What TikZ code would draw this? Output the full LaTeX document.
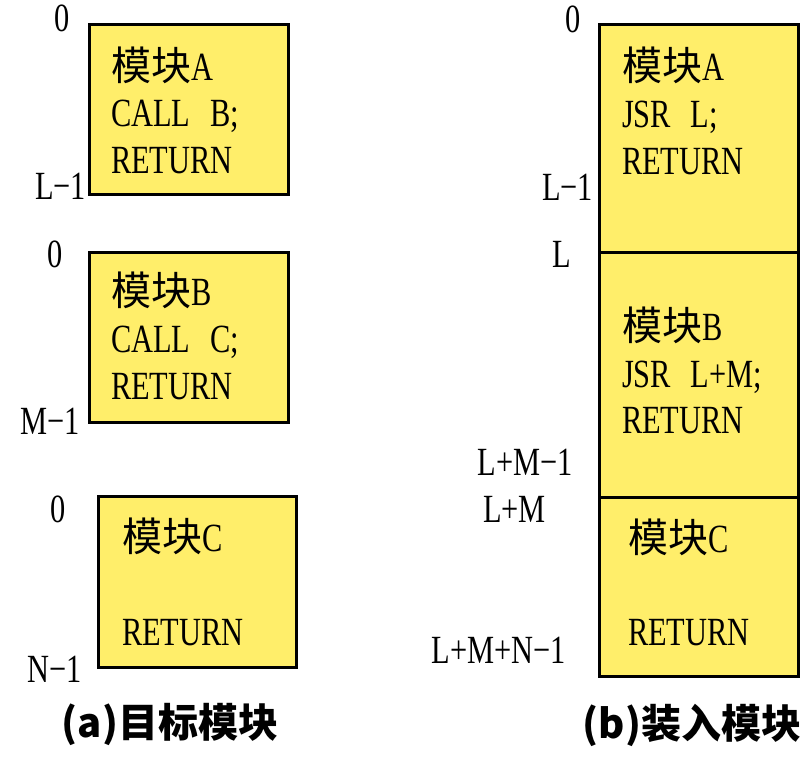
\documentclass[tikz,border=0pt]{standalone}
\usepackage{graphicx}
\usepackage{fontspec}
\setmainfont{Liberation Serif}
\newfontfamily\cjk{Noto Sans CJK SC}
\newcommand\sx[1]{\scalebox{0.76}[1]{#1}}
\newcommand\wgap{\hspace{26pt}}
\definecolor{boxyellow}{RGB}{255,238,106}
\begin{document}
\begin{tikzpicture}[x=1pt,y=-1pt,
  every node/.style={inner sep=0pt,outer sep=0pt},
  memblock/.style={draw=black,line width=3pt,fill=boxyellow},
  txt/.style={anchor=base west,font=\fontsize{40}{47}\selectfont},
  lbl/.style={anchor=base east,font=\fontsize{40}{47}\selectfont},
  captext/.style={anchor=base,font=\fontsize{40}{47}\selectfont\cjk\bfseries}]
\useasboundingbox (0,0) rectangle (808,763);
% left column: object modules
\draw[memblock] (89,24) rectangle (288,194);
\draw[memblock] (89,252) rectangle (288,422);
\draw[memblock] (98,496) rectangle (296,667);
\node[txt] (a1) at (111,80) {{\cjk 模块}\sx{A}};
\node[txt] (a2) at (111,126) {\sx{CALL\wgap B;}};
\node[txt] (a3) at (111,173) {\sx{RETURN}};
\node[txt] (b1) at (111,305) {{\cjk 模块}\sx{B}};
\node[txt] (b2) at (111,352) {\sx{CALL\wgap C;}};
\node[txt] (b3) at (111,399) {\sx{RETURN}};
\node[txt] (c1) at (122,551) {{\cjk 模块}\sx{C}};
\node[txt] (c3) at (122,645) {\sx{RETURN}};
\node[lbl] (la0) at (70,31) {\sx{0}};
\node[lbl] (la1) at (86,199) {\sx{L−1}};
\node[lbl] (lb0) at (63,267) {\sx{0}};
\node[lbl] (lb1) at (80,434) {\sx{M−1}};
\node[lbl] (lc0) at (66,522) {\sx{0}};
\node[lbl] (lc1) at (82,682) {\sx{N−1}};
\node[captext] (capa) at (170,737) {(a)目标模块};
% right column: load module
\draw[memblock] (599,24) rectangle (798,252);
\draw[memblock] (599,252) rectangle (798,497);
\draw[memblock] (599,497) rectangle (798,676);
\node[txt] (ra1) at (622,80) {{\cjk 模块}\sx{A}};
\node[txt] (ra2) at (622,127) {\sx{JSR\wgap L;}};
\node[txt] (ra3) at (622,174) {\sx{RETURN}};
\node[txt] (rb1) at (622,340) {{\cjk 模块}\sx{B}};
\node[txt] (rb2) at (622,387) {\sx{JSR\wgap L+M;}};
\node[txt] (rb3) at (622,433) {\sx{RETURN}};
\node[txt] (rc1) at (628,552) {{\cjk 模块}\sx{C}};
\node[txt] (rc3) at (628,645) {\sx{RETURN}};
\node[lbl] (r0) at (581,32) {\sx{0}};
\node[lbl] (rl1) at (593,200) {\sx{L−1}};
\node[lbl] (rl) at (571,267) {\sx{L}};
\node[lbl] (rlm1) at (573,475) {\sx{L+M−1}};
\node[lbl] (rlm) at (546,522) {\sx{L+M}};
\node[lbl] (rlmn) at (566,663) {\sx{L+M+N−1}};
\node[captext] (capb) at (692,738) {(b)装入模块};
\end{tikzpicture}
\end{document}
